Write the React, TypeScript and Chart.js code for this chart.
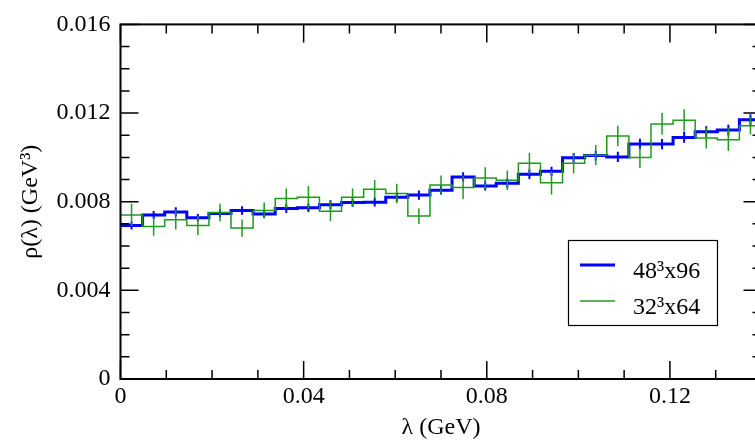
import React, { useEffect, useRef } from 'react';
import { Chart, registerables } from 'chart.js';

Chart.register(...registerables);

// Histogram bins: 29 bins spanning 0 .. 0.14 GeV
const binCount = 29;
const xMax = 0.14;
const binWidth = xMax / binCount;

// 48^3x96 spectral density (GeV^3) per bin
const blueValues = [
  0.00693, 0.0074, 0.00754, 0.00728, 0.00747, 0.0076, 0.00745, 0.00769, 0.00773, 0.00786,
  0.00796, 0.00798, 0.0082, 0.0083, 0.00852, 0.00912, 0.00871, 0.00883, 0.00924, 0.00937,
  0.00998, 0.01008, 0.01002, 0.0106, 0.0106, 0.0109, 0.01116, 0.01123, 0.0117,
];
const blueErrors = [
  0.00019, 0.00018, 0.00021, 0.00016, 0.00018, 0.00019, 0.00018, 0.0002, 0.00019, 0.0002,
  0.00019, 0.0002, 0.0002, 0.00021, 0.0002, 0.00021, 0.00021, 0.0002, 0.00022, 0.00021,
  0.00022, 0.00022, 0.00023, 0.00024, 0.00023, 0.00024, 0.00024, 0.00024, 0.00025,
];

// 32^3x64 spectral density (GeV^3) per bin
const greenValues = [
  0.0074, 0.00688, 0.00718, 0.00693, 0.00751, 0.00681, 0.0076, 0.00815, 0.0082, 0.00757,
  0.0082, 0.00856, 0.00837, 0.00735, 0.00875, 0.00864, 0.00907, 0.00897, 0.00973, 0.00885,
  0.00973, 0.0101, 0.01097, 0.00999, 0.01151, 0.01167, 0.01087, 0.0108, 0.01143,
];
const greenErrors = [
  0.00051, 0.00042, 0.00044, 0.00044, 0.0004, 0.00039, 0.00036, 0.00045, 0.00051, 0.00044,
  0.0004, 0.00042, 0.00044, 0.00036, 0.00043, 0.00053, 0.00049, 0.00044, 0.00048, 0.00053,
  0.00045, 0.00046, 0.00046, 0.00047, 0.00049, 0.0005, 0.00047, 0.00051, 0.0004,
];

const seriesLabels = ['48³x96', '32³x64'];
const seriesColors = ['#0000ff', '#1f9a1f'];
const xTitle = 'λ (GeV)';
const yTitle = 'ρ(λ) (GeV³)';

const FONT = "'Liberation Serif', 'Times New Roman', serif";

function stepPoints(values: number[]) {
  const pts = values.map((v, i) => ({ x: i * binWidth, y: v }));
  pts.push({ x: values.length * binWidth, y: values[values.length - 1] });
  return pts;
}

const errorBarPlugin = {
  id: 'errorBars',
  afterDatasetsDraw(chart: any) {
    const ctx = chart.ctx;
    const xs = chart.scales.x;
    const ys = chart.scales.y;
    const sets = [
      { vals: blueValues, errs: blueErrors, color: seriesColors[0], w: 2 },
      { vals: greenValues, errs: greenErrors, color: seriesColors[1], w: 1.5 },
    ];
    ctx.save();
    ctx.beginPath();
    ctx.rect(chart.chartArea.left, chart.chartArea.top, chart.chartArea.right - chart.chartArea.left, chart.chartArea.bottom - chart.chartArea.top);
    ctx.clip();
    sets.forEach((s) => {
      ctx.strokeStyle = s.color;
      ctx.lineWidth = s.w;
      s.vals.forEach((v, i) => {
        const px = xs.getPixelForValue((i + 0.5) * binWidth);
        ctx.beginPath();
        ctx.moveTo(px, ys.getPixelForValue(v - s.errs[i]));
        ctx.lineTo(px, ys.getPixelForValue(v + s.errs[i]));
        ctx.stroke();
      });
    });
    ctx.restore();
  },
};

const framePlugin = {
  id: 'frameTicks',
  afterDraw(chart: any) {
    const ctx = chart.ctx;
    const { left, right, top, bottom } = chart.chartArea;
    const xs = chart.scales.x;
    const ys = chart.scales.y;
    const major = 18;
    const minor = 9;
    ctx.save();
    ctx.strokeStyle = '#000';
    ctx.lineWidth = 1.5;
    xs.ticks.forEach((t: any, i: number) => {
      const px = xs.getPixelForValue(t.value);
      const len = xs.ticks[i].label !== '' ? major : minor;
      ctx.beginPath();
      ctx.moveTo(px, bottom);
      ctx.lineTo(px, bottom - len);
      ctx.moveTo(px, top);
      ctx.lineTo(px, top + len);
      ctx.stroke();
    });
    ys.ticks.forEach((t: any, i: number) => {
      const py = ys.getPixelForValue(t.value);
      const len = ys.ticks[i].label !== '' ? major : minor;
      ctx.beginPath();
      ctx.moveTo(left, py);
      ctx.lineTo(left + len, py);
      ctx.moveTo(right, py);
      ctx.lineTo(right - len, py);
      ctx.stroke();
    });
    ctx.lineWidth = 2;
    ctx.strokeRect(left, top, right - left, bottom - top);
    ctx.restore();
  },
};

const legendPlugin = {
  id: 'boxLegend',
  afterDraw(chart: any) {
    const ctx = chart.ctx;
    ctx.save();
    ctx.fillStyle = '#fff';
    ctx.fillRect(568.5, 240.5, 149, 85);
    ctx.strokeStyle = '#000';
    ctx.lineWidth = 1.2;
    ctx.strokeRect(568.5, 240.5, 149, 85);
    chart.data.datasets.forEach((ds: any, i: number) => {
      const ly = 265 + i * 36;
      ctx.strokeStyle = ds.borderColor;
      ctx.lineWidth = ds.borderWidth;
      ctx.beginPath();
      ctx.moveTo(580, ly);
      ctx.lineTo(615, ly);
      ctx.stroke();
      ctx.fillStyle = '#000';
      ctx.font = `24px ${FONT}`;
      ctx.textAlign = 'left';
      ctx.textBaseline = 'alphabetic';
      ctx.fillText(ds.label, 633, 277.5 + i * 36);
    });
    ctx.restore();
  },
};

export default function App() {
  const ref = useRef<HTMLCanvasElement | null>(null);

  useEffect(() => {
    if (!ref.current) return;
    const chart = new Chart(ref.current, {
      type: 'line',
      data: {
        datasets: [
          {
            label: seriesLabels[0],
            data: stepPoints(blueValues),
            borderColor: seriesColors[0],
            borderWidth: 3,
            stepped: 'before',
            pointRadius: 0,
            fill: false,
            order: 2,
          },
          {
            label: seriesLabels[1],
            data: stepPoints(greenValues),
            borderColor: seriesColors[1],
            borderWidth: 1.5,
            stepped: 'before',
            pointRadius: 0,
            fill: false,
            order: 1,
          },
        ],
      },
      options: {
        animation: false,
        responsive: false,
        devicePixelRatio: 1,
        layout: { autoPadding: false, padding: { left: 0, right: 18.5, top: 12.5, bottom: 0 } },
        plugins: { legend: { display: false }, tooltip: { enabled: false } },
        scales: {
          x: {
            type: 'linear',
            min: 0,
            max: xMax,
            grid: { display: false, drawTicks: false },
            border: { display: false },
            ticks: {
              stepSize: 0.01,
              autoSkip: false,
              maxRotation: 0,
              padding: 3,
              color: '#000',
              font: { family: FONT, size: 24 },
              callback: (v: any) => {
                const n = Math.round(Number(v) * 100);
                if (n % 4 !== 0 || n > 12) return '';
                return n === 0 ? '0' : (n / 100).toFixed(2);
              },
            },
            title: {
              display: true,
              text: xTitle,
              color: '#000',
              font: { family: FONT, size: 24 },
              padding: { top: 0, bottom: 0 },
            },
            afterFit: (s: any) => {
              s.height = 63;
            },
          },
          y: {
            type: 'linear',
            min: 0,
            max: 0.016,
            grid: { display: false, drawTicks: false },
            border: { display: false },
            ticks: {
              stepSize: 0.001,
              autoSkip: false,
              padding: 10,
              color: '#000',
              font: { family: FONT, size: 24 },
              callback: (v: any) => {
                const n = Math.round(Number(v) * 1000);
                if (n % 4 !== 0) return '';
                return n === 0 ? '0' : (n / 1000).toFixed(3);
              },
            },
            title: {
              display: true,
              text: yTitle,
              color: '#000',
              font: { family: FONT, size: 24 },
              padding: { top: 16, bottom: 0 },
            },
            afterFit: (s: any) => {
              s.width = 120.5;
            },
          },
        },
      },
      plugins: [errorBarPlugin, framePlugin, legendPlugin],
    });
    return () => chart.destroy();
  }, []);

  return (
    <div
      style={{
        position: 'fixed',
        left: 0,
        top: 0,
        width: 755,
        height: 442,
        overflow: 'hidden',
        background: '#fff',
      }}
    >
      <canvas ref={ref} width={780} height={442} style={{ display: 'block', width: 780, height: 442 }} />
    </div>
  );
}
